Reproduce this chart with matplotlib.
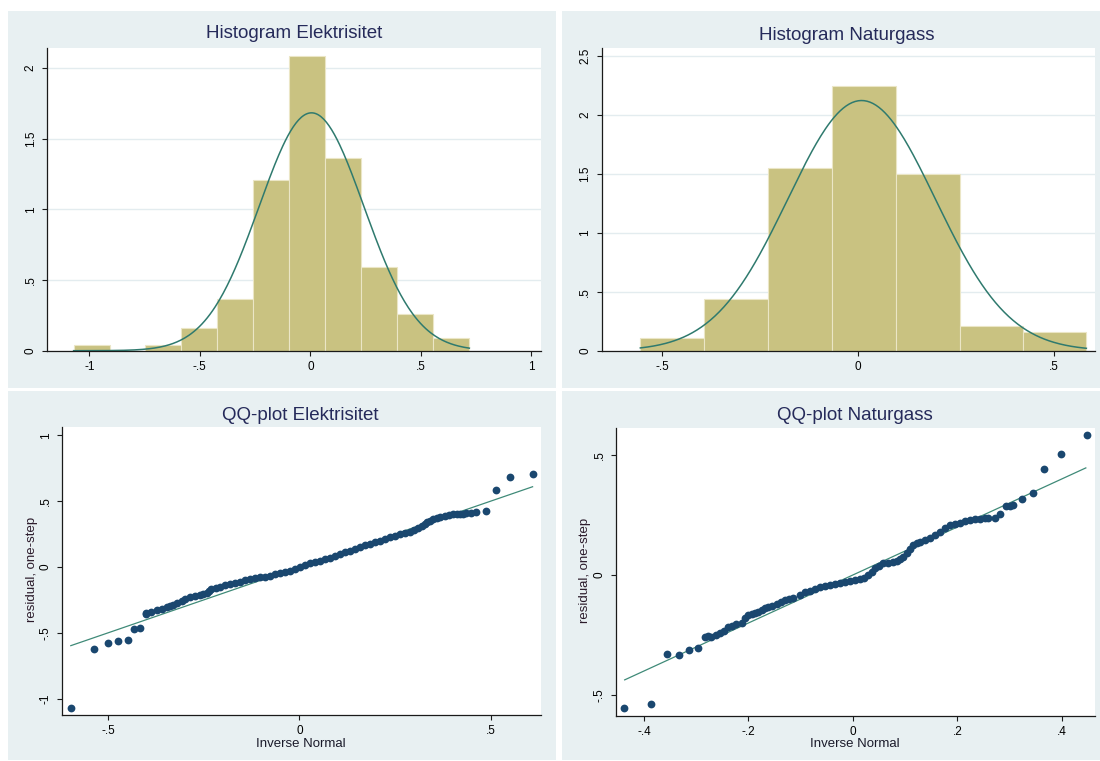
import numpy as np
import matplotlib
matplotlib.use("Agg")
import matplotlib.pyplot as plt
from matplotlib.patches import Rectangle

plt.rcParams['font.family'] = ['Liberation Sans', 'DejaVu Sans']

W, H = 1100, 761

# Histogram Elektrisitet (density)
elec_edges = [-1.071, -0.905, -0.746, -0.584, -0.421, -0.259, -0.095, 0.067, 0.230, 0.392, 0.556, 0.719]
elec_dens = [0.04, 0.0, 0.04, 0.158, 0.364, 1.209, 2.087, 1.367, 0.593, 0.26, 0.092]
elec_mu, elec_sd = 0.005, 0.237

# Histogram Naturgass (density)
gas_edges = [-0.555, -0.393, -0.230, -0.067, 0.0955, 0.259, 0.420, 0.582]
gas_dens = [0.11, 0.435, 1.547, 2.245, 1.496, 0.212, 0.156]
gas_mu, gas_sd = 0.009, 0.188

# QQ-plot Elektrisitet: inverse normal (x) vs residual (y)
qq_elec_x = [-0.598, -0.537, -0.500, -0.474, -0.449, -0.432, -0.416, -0.402, -0.400, -0.387,
             -0.373, -0.360, -0.347, -0.339, -0.330, -0.320, -0.308, -0.298, -0.286, -0.273,
             -0.260, -0.252, -0.243, -0.237, -0.230, -0.218, -0.208, -0.195, -0.182, -0.169,
             -0.156, -0.143, -0.129, -0.116, -0.103, -0.090, -0.077, -0.064, -0.051, -0.038,
             -0.025, -0.012, 0.001, 0.014, 0.027, 0.041, 0.054, 0.067, 0.080, 0.093,
             0.106, 0.119, 0.132, 0.145, 0.158, 0.171, 0.184, 0.197, 0.211, 0.224,
             0.237, 0.250, 0.263, 0.276, 0.289, 0.299, 0.311, 0.320, 0.328, 0.334,
             0.341, 0.350, 0.359, 0.369, 0.380, 0.392, 0.402, 0.411, 0.420, 0.428,
             0.437, 0.450, 0.463, 0.488, 0.513, 0.552, 0.610]
qq_elec_y = [-1.069, -0.625, -0.575, -0.562, -0.555, -0.473, -0.466, -0.359, -0.352, -0.340,
             -0.327, -0.317, -0.306, -0.296, -0.289, -0.271, -0.256, -0.243, -0.230, -0.220,
             -0.213, -0.205, -0.200, -0.182, -0.170, -0.157, -0.150, -0.139, -0.131, -0.122,
             -0.112, -0.101, -0.094, -0.086, -0.078, -0.074, -0.066, -0.055, -0.048, -0.038,
             -0.028, -0.015, -0.002, 0.013, 0.028, 0.036, 0.046, 0.059, 0.071, 0.086,
             0.099, 0.112, 0.124, 0.139, 0.154, 0.167, 0.175, 0.192, 0.200, 0.215,
             0.226, 0.237, 0.248, 0.258, 0.268, 0.281, 0.294, 0.312, 0.327, 0.340,
             0.352, 0.362, 0.370, 0.380, 0.388, 0.395, 0.400, 0.400, 0.403, 0.405,
             0.408, 0.410, 0.416, 0.428, 0.585, 0.682, 0.709]
qq_elec_line = [-0.598, 0.610]

# QQ-plot Naturgass
qq_gas_x = [-0.438, -0.387, -0.356, -0.333, -0.313, -0.296, -0.284, -0.277, -0.271, -0.263,
            -0.255, -0.247, -0.239, -0.231, -0.223, -0.213, -0.207, -0.201, -0.194, -0.188,
            -0.181, -0.175, -0.169, -0.162, -0.155, -0.146, -0.138, -0.130, -0.123, -0.114,
            -0.102, -0.092, -0.082, -0.073, -0.063, -0.054, -0.044, -0.034, -0.025, -0.015,
            -0.006, 0.004, 0.013, 0.021, 0.029, 0.036, 0.042, 0.050, 0.058, 0.068,
            0.077, 0.084, 0.090, 0.096, 0.103, 0.109, 0.116, 0.122, 0.128, 0.138,
            0.148, 0.157, 0.167, 0.176, 0.186, 0.195, 0.205, 0.215, 0.224, 0.234,
            0.243, 0.253, 0.259, 0.272, 0.282, 0.294, 0.301, 0.307, 0.323, 0.345,
            0.366, 0.398, 0.448]
qq_gas_y = [-0.553, -0.538, -0.330, -0.333, -0.314, -0.303, -0.257, -0.254, -0.257, -0.251,
            -0.243, -0.232, -0.215, -0.211, -0.205, -0.199, -0.181, -0.167, -0.164, -0.160,
            -0.153, -0.146, -0.139, -0.132, -0.128, -0.122, -0.114, -0.104, -0.101, -0.095,
            -0.082, -0.072, -0.065, -0.058, -0.051, -0.046, -0.042, -0.036, -0.032, -0.028,
            -0.024, -0.022, -0.018, -0.011, 0.000, 0.014, 0.028, 0.039, 0.049, 0.051,
            0.055, 0.060, 0.065, 0.076, 0.090, 0.108, 0.125, 0.132, 0.139, 0.146,
            0.153, 0.167, 0.180, 0.195, 0.208, 0.214, 0.218, 0.225, 0.227, 0.233,
            0.235, 0.239, 0.239, 0.239, 0.254, 0.2875, 0.289, 0.290, 0.315, 0.343,
            0.440, 0.505, 0.582]
qq_gas_line = [-0.437, 0.446]

PANEL = '#e8f0f2'
BAR = '#c9c281'
CURVE = '#2f7a6e'
NAVY = '#1a476f'
TITLE = '#252a5a'


def px_rect(x0, y0, x1, y1):
    return [x0 / W, 1 - y1 / H, (x1 - x0) / W, (y1 - y0) / H]


def style_axes(ax, xt, xl, yt, yl, grid=False):
    for s in ['top', 'right']:
        ax.spines[s].set_visible(False)
    for s in ['left', 'bottom']:
        ax.spines[s].set_color('#1a1a1a')
        ax.spines[s].set_linewidth(0.9)
    ax.set_xticks(xt)
    ax.set_xticklabels(xl, fontsize=8.5)
    ax.set_yticks(yt)
    ax.set_yticklabels(yl, fontsize=8.5, rotation=90, va='center')
    ax.tick_params(length=3.5, width=0.8, color='#1a1a1a', pad=4)
    if grid:
        ax.set_axisbelow(True)
        ax.yaxis.grid(True, color='#e3ecef', linewidth=1.0)


fig = plt.figure(figsize=(W / 100, H / 100), dpi=100)
fig.patch.set_facecolor('white')

# panel backgrounds
for r in [(8, 11, 556, 388), (562, 11, 1100, 388), (8, 391, 556, 760), (562, 391, 1100, 760)]:
    x0, y0, x1, y1 = r
    fig.patches.append(Rectangle((x0 / W, 1 - y1 / H), (x1 - x0) / W, (y1 - y0) / H,
                                 transform=fig.transFigure, facecolor=PANEL, edgecolor='none', zorder=-10))


def hist_panel(rect, edges, dens, mu, sd, xlim, ylim, xt, xl, yt, yl, title, tpos):
    ax = fig.add_axes(px_rect(*rect))
    ax.set_zorder(1)
    ax.set_facecolor('white')
    e = np.array(edges)
    ax.bar(e[:-1], dens, width=np.diff(e), align='edge', color=BAR,
           edgecolor='#ebe6c6', linewidth=0.8, zorder=2)
    xs = np.linspace(e[0], e[-1], 300)
    ax.plot(xs, np.exp(-0.5 * ((xs - mu) / sd) ** 2) / (sd * np.sqrt(2 * np.pi)),
            color=CURVE, linewidth=1.1, zorder=2.2)
    ax.set_xlim(*xlim)
    ax.set_ylim(*ylim)
    style_axes(ax, xt, xl, yt, yl, grid=True)
    fig.text(tpos[0] / W, 1 - tpos[1] / H, title, ha='center', va='center',
             fontsize=13.5, color=TITLE)
    return ax


def qq_panel(rect, qx, qy, line, xlim, ylim, xt, xl, yt, yl, title, tpos, xlpos, ylpos):
    ax = fig.add_axes(px_rect(*rect))
    ax.set_zorder(1)
    ax.set_facecolor('white')
    ax.plot(line, line, color='#3f8a78', linewidth=0.9, zorder=2)
    ax.plot(qx, qy, linestyle='none', marker='o', markersize=5.6, color=NAVY,
            markeredgewidth=0, zorder=3)
    ax.set_xlim(*xlim)
    ax.set_ylim(*ylim)
    style_axes(ax, xt, xl, yt, yl)
    fig.text(tpos[0] / W, 1 - tpos[1] / H, title, ha='center', va='center',
             fontsize=13.5, color=TITLE)
    fig.text(xlpos[0] / W, 1 - xlpos[1] / H, 'Inverse Normal', ha='center', va='center',
             fontsize=9.5, color='#1a1a2a')
    fig.text(ylpos[0] / W, 1 - ylpos[1] / H, 'residual, one-step', ha='center', va='center',
             fontsize=9.5, color='#2a1a2a', rotation=90)
    return ax


hist_panel((47.3, 48.3, 541, 350.7), elec_edges, elec_dens, elec_mu, elec_sd,
           (-1.19, 1.043), (0, 2.14),
           [-1, -0.5, 0, 0.5, 1], ['-1', '-.5', '0', '.5', '1'],
           [0, 0.5, 1, 1.5, 2], ['0', '.5', '1', '1.5', '2'],
           'Histogram Elektrisitet', (294, 34))

hist_panel((601.5, 48.3, 1094.6, 350.7), gas_edges, gas_dens, gas_mu, gas_sd,
           (-0.654, 0.603), (0, 2.565),
           [-0.5, 0, 0.5], ['-.5', '0', '.5'],
           [0, 0.5, 1, 1.5, 2, 2.5], ['0', '.5', '1', '1.5', '2', '2.5'],
           'Histogram Naturgass', (847, 35))

qq_panel((62, 427, 541, 715), qq_elec_x, qq_elec_y, qq_elec_line,
         (-0.621, 0.632), (-1.125, 1.064),
         [-0.5, 0, 0.5], ['-.5', '0', '.5'],
         [-1, -0.5, 0, 0.5, 1], ['-1', '-.5', '0', '.5', '1'],
         'QQ-plot Elektrisitet', (300.5, 415), (300.5, 744), (31.5, 569))

qq_panel((615.8, 428.3, 1094.7, 716), qq_gas_x, qq_gas_y, qq_gas_line,
         (-0.454, 0.463), (-0.5875, 0.611),
         [-0.4, -0.2, 0, 0.2, 0.4], ['-.4', '-.2', '0', '.2', '.4'],
         [-0.5, 0, 0.5], ['-.5', '0', '.5'],
         'QQ-plot Naturgass', (854.5, 415), (854.5, 744), (585, 570))

fig.savefig('out.png', dpi=100)
